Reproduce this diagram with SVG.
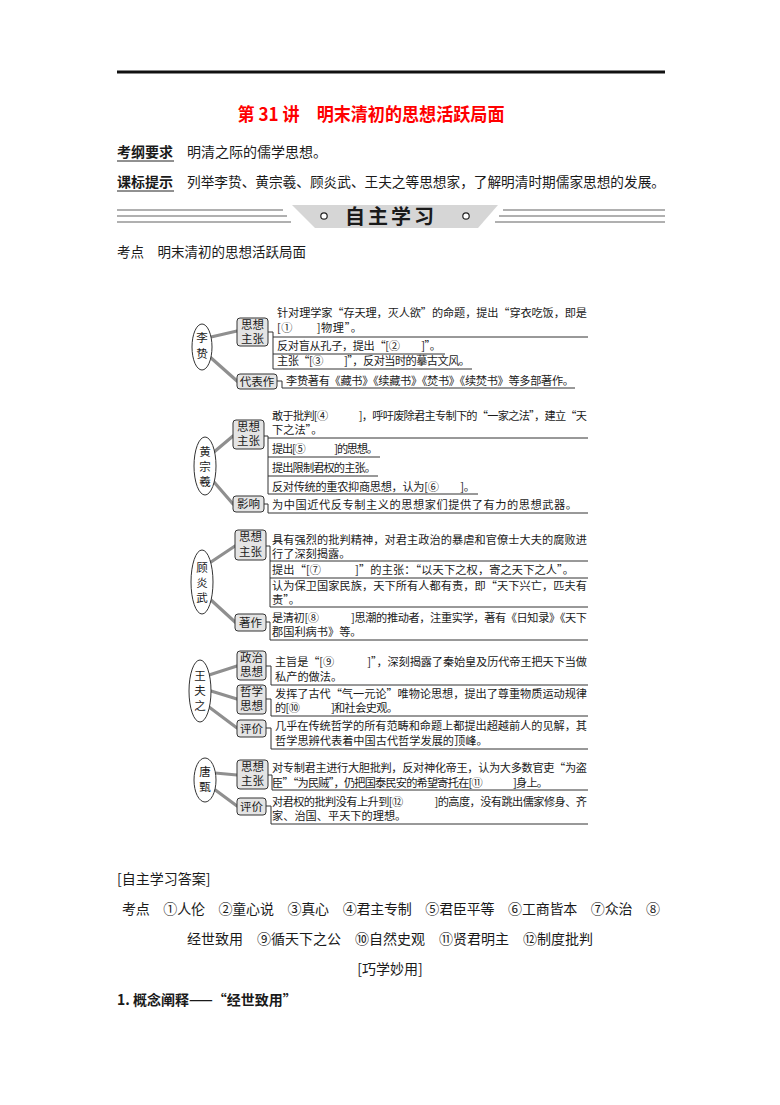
<svg xmlns="http://www.w3.org/2000/svg" width="780" height="1105" viewBox="0 0 780 1105">
<style>
text{font-family:"Noto Sans CJK SC","Liberation Sans",sans-serif;fill:#1a1a1a}
.t{font-size:11.2px}
.bt{font-size:11.5px;text-anchor:middle}
.h{font-size:14px}
.box{fill:#e4e4e4;stroke:#333;stroke-width:1}
.ell{fill:#fff;stroke:#333;stroke-width:1}
.rule{fill:none;stroke:#333;stroke-width:1}
.conn{fill:none;stroke:#8f8f8f;stroke-width:3.2;stroke-linecap:round}
.band{stroke:#b0b0b0;stroke-width:2}
</style>
<rect width="780" height="1105" fill="#fff"/>
<line x1="117" y1="72" x2="665" y2="72" stroke="#111" stroke-width="3"/>
<text x="371" y="121" text-anchor="middle" style="font-size:18px;font-weight:bold;fill:#f00" textLength="267" lengthAdjust="spacingAndGlyphs">第 31 讲　明末清初的思想活跃局面</text>
<g id="header">
<text class="h" x="117" y="157" style="font-weight:bold">考纲要求</text>
<line x1="117" y1="161" x2="174" y2="161" stroke="#222" stroke-width="1"/>
<text class="h" x="187" y="157">明清之际的儒学思想。</text>
<text class="h" x="117" y="187" style="font-weight:bold">课标提示</text>
<line x1="117" y1="191" x2="174" y2="191" stroke="#222" stroke-width="1"/>
<text class="h" x="187" y="187" textLength="478" lengthAdjust="spacingAndGlyphs">列举李贽、黄宗羲、顾炎武、王夫之等思想家，了解明清时期儒家思想的发展。</text>
</g>
<g id="banner">
<path class="band" d="M117,210 H283 M117,216 H287 M117,222 H291 M503,210 H665 M499,216 H665 M495,222 H665"/>
<polygon points="292,205 498,205 478,228 315,228" fill="#d6d6d6"/>
<circle cx="324" cy="216" r="3.2" fill="#fff" stroke="#222" stroke-width="1.2"/>
<circle cx="466" cy="216" r="3.2" fill="#fff" stroke="#222" stroke-width="1.2"/>
<text x="391" y="224" text-anchor="middle" style="font-size:20px;font-weight:bold" letter-spacing="3">自主学习</text>
</g>
<text x="117" y="257" style="font-size:13.5px">考点　明末清初的思想活跃局面</text>

<g id="connectors">
<path class="conn" d="M211,337 L237,331 M210,357 L237,381"/>
<path class="conn" d="M214,452 L233,436 M214,482 L233,504"/>
<path class="conn" d="M211,562 L235,546 M211,600 L235,622"/>
<path class="conn" d="M209,675 L237,666 M211,691 L237,699 M209,707 L237,728"/>
<path class="conn" d="M215,773 L237,775 M214,789 L237,806"/>
<path class="rule" d="M268,332 H273 V369 M273,337 H588 M273,354 H445 M273,369 H472 M277,381 H282 V388 H575"/>
<path class="rule" d="M264,436 H268 V494 M268,438 H588 M268,457 H380 M268,476 H378 M268,494 H478 M264,504 H268 V513 H588"/>
<path class="rule" d="M266,546 H270 V607 M270,561 H588 M270,578 H588 M270,607 H588 M266,622 H270 V640 H588"/>
<path class="rule" d="M266,666 H271 V685 H588 M266,699 H271 V716 H588 M266,728 H271 V749 H588"/>
<path class="rule" d="M268,775 H272 V790 H588 M266,806 H271 V824 H588"/>
</g>

<g id="lizhi">
<ellipse class="ell" cx="202" cy="347" rx="10" ry="23"/>
<text class="bt" x="202" y="342">李</text><text class="bt" x="202" y="358">贽</text>
</g>
<g id="lizhi-sixiang">
<rect class="box" x="237" y="318" width="31" height="28" rx="3"/>
<text class="bt" x="252.5" y="329">思想</text><text class="bt" x="252.5" y="343">主张</text>
<text class="t" x="277" y="317" textLength="310" lengthAdjust="spacing">针对理学家“存天理，灭人欲”的命题，提出“穿衣吃饭，即是</text>
<text class="t" x="277" y="332" textLength="85" lengthAdjust="spacing">[①　　]物理”。</text>
<text class="t" x="277" y="350" textLength="164" lengthAdjust="spacing">反对盲从孔子，提出“[②　　]”。</text>
<text class="t" x="277" y="365" textLength="193" lengthAdjust="spacing">主张“[③　　]”，反对当时的摹古文风。</text>
</g>
<g id="lizhi-daibiao">
<rect class="box" x="237" y="374" width="40" height="15" rx="3"/>
<text class="bt" x="257" y="386">代表作</text>
<text class="t" x="286" y="385" textLength="288" lengthAdjust="spacing">李贽著有《藏书》《续藏书》《焚书》《续焚书》等多部著作。</text>
</g>

<g id="huang">
<ellipse class="ell" cx="205" cy="466" rx="11" ry="29"/>
<text class="bt" x="205" y="456">黄</text><text class="bt" x="205" y="471">宗</text><text class="bt" x="205" y="486">羲</text>
</g>
<g id="huang-sixiang">
<rect class="box" x="233" y="420" width="31" height="29" rx="3"/>
<text class="bt" x="248.5" y="431">思想</text><text class="bt" x="248.5" y="445">主张</text>
<text class="t" x="272" y="420" textLength="315" lengthAdjust="spacing">敢于批判[④　　　]，呼吁废除君主专制下的“一家之法”，建立“天</text>
<text class="t" x="272" y="434">下之法”。</text>
<text class="t" x="272" y="453" textLength="106" lengthAdjust="spacing">提出[⑤　　　]的思想。</text>
<text class="t" x="272" y="472" textLength="104" lengthAdjust="spacing">提出限制君权的主张。</text>
<text class="t" x="272" y="491" textLength="203" lengthAdjust="spacing">反对传统的重农抑商思想，认为[⑥　　]。</text>
</g>
<g id="huang-yingxiang">
<rect class="box" x="233" y="496" width="31" height="16" rx="3"/>
<text class="bt" x="248.5" y="508">影响</text>
<text class="t" x="272" y="509" textLength="305" lengthAdjust="spacing">为中国近代反专制主义的思想家们提供了有力的思想武器。</text>
</g>

<g id="gu">
<ellipse class="ell" cx="202" cy="582" rx="11" ry="32"/>
<text class="bt" x="202" y="572">顾</text><text class="bt" x="202" y="587">炎</text><text class="bt" x="202" y="602">武</text>
</g>
<g id="gu-sixiang">
<rect class="box" x="235" y="530" width="31" height="30" rx="3"/>
<text class="bt" x="250.5" y="541">思想</text><text class="bt" x="250.5" y="556">主张</text>
<text class="t" x="272" y="544" textLength="315" lengthAdjust="spacing">具有强烈的批判精神，对君主政治的暴虐和官僚士大夫的腐败进</text>
<text class="t" x="272" y="558">行了深刻揭露。</text>
<text class="t" x="272" y="574" textLength="302" lengthAdjust="spacing">提出“[⑦　　　]”的主张：“以天下之权，寄之天下之人”。</text>
<text class="t" x="272" y="590" textLength="315" lengthAdjust="spacing">认为保卫国家民族，天下所有人都有责，即“天下兴亡，匹夫有</text>
<text class="t" x="272" y="604">责”。</text>
</g>
<g id="gu-zhuzuo">
<rect class="box" x="235" y="614" width="31" height="17" rx="3"/>
<text class="bt" x="250.5" y="627">著作</text>
<text class="t" x="272" y="622" textLength="315" lengthAdjust="spacing">是清初[⑧　　　]思潮的推动者，注重实学，著有《日知录》《天下</text>
<text class="t" x="272" y="636">郡国利病书》等。</text>
</g>

<g id="wang">
<ellipse class="ell" cx="200" cy="691" rx="11" ry="31"/>
<text class="bt" x="200" y="680">王</text><text class="bt" x="200" y="695">夫</text><text class="bt" x="200" y="710">之</text>
</g>
<g id="wang-zhengzhi">
<rect class="box" x="237" y="651" width="29" height="29" rx="3"/>
<text class="bt" x="251.5" y="662">政治</text><text class="bt" x="251.5" y="676">思想</text>
<text class="t" x="275" y="666" textLength="312" lengthAdjust="spacing">主旨是“[⑨　　　]”，深刻揭露了秦始皇及历代帝王把天下当做</text>
<text class="t" x="275" y="681">私产的做法。</text>
</g>
<g id="wang-zhexue">
<rect class="box" x="237" y="685" width="29" height="29" rx="3"/>
<text class="bt" x="251.5" y="696">哲学</text><text class="bt" x="251.5" y="710">思想</text>
<text class="t" x="275" y="698" textLength="312" lengthAdjust="spacing">发挥了古代“气一元论”唯物论思想，提出了尊重物质运动规律</text>
<text class="t" x="275" y="712" textLength="123" lengthAdjust="spacing">的[⑩　　　]和社会史观。</text>
</g>
<g id="wang-pingjia">
<rect class="box" x="237" y="720" width="29" height="17" rx="3"/>
<text class="bt" x="251.5" y="733">评价</text>
<text class="t" x="275" y="730" textLength="312" lengthAdjust="spacing">几乎在传统哲学的所有范畴和命题上都提出超越前人的见解，其</text>
<text class="t" x="275" y="745">哲学思辨代表着中国古代哲学发展的顶峰。</text>
</g>

<g id="tang">
<ellipse class="ell" cx="205" cy="780" rx="11" ry="22"/>
<text class="bt" x="205" y="776">唐</text><text class="bt" x="205" y="791">甄</text>
</g>
<g id="tang-sixiang">
<rect class="box" x="237" y="760" width="31" height="29" rx="3"/>
<text class="bt" x="252.5" y="771">思想</text><text class="bt" x="252.5" y="785">主张</text>
<text class="t" x="272" y="772" textLength="315" lengthAdjust="spacing">对专制君主进行大胆批判，反对神化帝王，认为大多数官吏“为盗</text>
<text class="t" x="272" y="787" textLength="276" lengthAdjust="spacing">臣”“为民贼”，仍把国泰民安的希望寄托在[⑪　　　]身上。</text>
</g>
<g id="tang-pingjia">
<rect class="box" x="237" y="798" width="29" height="17" rx="3"/>
<text class="bt" x="251.5" y="811">评价</text>
<text class="t" x="272" y="806" textLength="315" lengthAdjust="spacing">对君权的批判没有上升到[⑫　　　]的高度，没有跳出儒家修身、齐</text>
<text class="t" x="272" y="820">家、治国、平天下的理想。</text>
</g>

<g id="answers">
<text class="h" x="117" y="884">[自主学习答案]</text>
<text class="h" x="122" y="914" textLength="538" lengthAdjust="spacing">考点　①人伦　②童心说　③真心　④君主专制　⑤君臣平等　⑥工商皆本　⑦众治　⑧</text>
<text class="h" x="390" y="944" text-anchor="middle">经世致用　⑨循天下之公　⑩自然史观　⑪贤君明主　⑫制度批判</text>
<text class="h" x="390" y="974" text-anchor="middle">[巧学妙用]</text>
<text class="h" x="117" y="1005" style="font-weight:bold">1. 概念阐释——“经世致用”</text>
</g>
</svg>
